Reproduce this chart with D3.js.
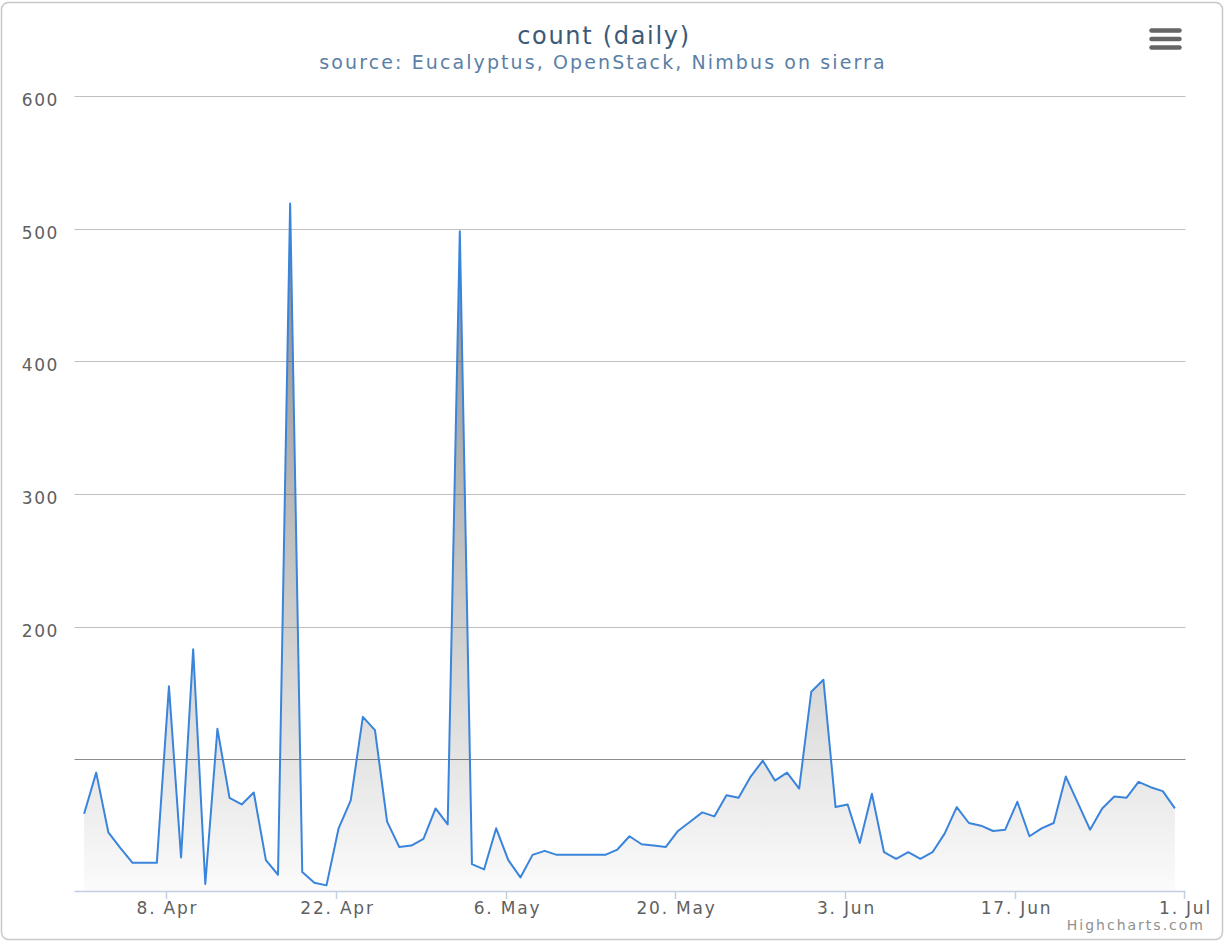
<!DOCTYPE html>
<html>
<head>
<meta charset="utf-8">
<script src="https://cdn.jsdelivr.net/npm/d3@7"></script>
<style>
  html, body { margin: 0; padding: 0; background: #fff; }
  svg { display: block; font-family: "DejaVu Sans", Verdana, sans-serif; }
</style>
</head>
<body>
<svg id="chart" width="1225" height="941"></svg>
<script>
// ---- data ----
const startDay = [2013, 3, 1];           // 1 Apr 2013 (UTC), one point per day
const counts = [
  59, 90, 45, 33, 22, 22, 22, 155, 26, 183,
  6, 123, 71, 66, 75, 24, 13, 519, 15, 7,
  5, 48, 69, 132, 122, 53, 34, 35, 40, 63,
  51, 498, 21, 17, 48, 24, 11, 28, 31, 28,
  28, 28, 28, 28, 32, 42, 36, 35, 34, 46,
  53, 60, 57, 73, 71, 87, 99, 84, 90, 78,
  151, 160, 64, 66, 37, 74, 30, 25, 30, 25,
  30, 44, 64, 52, 50, 46, 47, 68, 42, 48,
  52, 87, 67, 47, 63, 72, 71, 83, 79, 76,
  63
];
const xTickDates = ["2013-04-08", "2013-04-22", "2013-05-06", "2013-05-20", "2013-06-03", "2013-06-17", "2013-07-01"];
const xTickLabels = ["8. Apr", "22. Apr", "6. May", "20. May", "3. Jun", "17. Jun", "1. Jul"];
const yTicks = [100, 200, 300, 400, 500, 600];
const yTickLabels = ["", "200", "300", "400", "500", "600"];
const titleText = "count (daily)";
const subtitleText = "source: Eucalyptus, OpenStack, Nimbus on sierra";
const creditText = "Highcharts.com";

// ---- build ----
const points = counts.map((v, i) => ({
  date: new Date(Date.UTC(startDay[0], startDay[1], startDay[2] + i, 5)),
  value: v
}));

const svg = d3.select("#chart");
const W = 1225, H = 941;
const plot = { left: 74.5, right: 1185.5, top: 96, bottom: 892 };

// outer border
svg.append("rect")
  .attr("x", 1.5).attr("y", 2.5)
  .attr("width", W - 4).attr("height", H - 4)
  .attr("rx", 7).attr("ry", 7)
  .attr("fill", "#fff").attr("stroke", "#c8c8c8").attr("stroke-width", 1.5);

const x = d3.scaleUtc()
  .domain([new Date(Date.UTC(2013, 2, 31, 10)), new Date(Date.UTC(2013, 6, 1, 2))])
  .range([plot.left, plot.right]);
const y = d3.scaleLinear().domain([0, 600]).range([plot.bottom, plot.top]);

// grid lines
const grid = svg.append("g");
yTicks.forEach((t, i) => {
  const yy = Math.round(y(t)) + 0.5;
  grid.append("line")
    .attr("x1", plot.left).attr("x2", plot.right)
    .attr("y1", yy).attr("y2", yy)
    .attr("stroke", t === 100 ? "#8c8c8c" : "#c0c0c0")
    .attr("stroke-width", 1.2);
  if (yTickLabels[i]) {
    svg.append("text")
      .attr("x", 59).attr("y", yy + 9)
      .attr("text-anchor", "end")
      .attr("font-size", 17)
      .attr("letter-spacing", 1.6)
      .attr("fill", "#606060")
      .text(yTickLabels[i]);
  }
});

// area gradient
const defs = svg.append("defs");
const grad = defs.append("linearGradient")
  .attr("id", "areaGrad")
  .attr("gradientUnits", "userSpaceOnUse")
  .attr("x1", 0).attr("x2", 0)
  .attr("y1", y(d3.max(counts))).attr("y2", y(0));
grad.append("stop").attr("offset", 0).attr("stop-color", "#000").attr("stop-opacity", 0.47);
grad.append("stop").attr("offset", 1).attr("stop-color", "#000").attr("stop-opacity", 0.015);

const area = d3.area()
  .x(d => x(d.date))
  .y0(y(0))
  .y1(d => y(d.value));
const line = d3.line()
  .x(d => x(d.date))
  .y(d => y(d.value));

svg.append("path")
  .datum(points)
  .attr("d", area)
  .attr("fill", "url(#areaGrad)");

svg.append("path")
  .datum(points)
  .attr("d", line)
  .attr("fill", "none")
  .attr("stroke", "#3a84dc")
  .attr("stroke-width", 2)
  .attr("stroke-linejoin", "round");

// x axis
const xTicks = xTickDates.map(s => new Date(s + "T00:00:00Z"));
const axisY = plot.bottom - 0.5;
svg.append("line")
  .attr("x1", plot.left).attr("x2", plot.right)
  .attr("y1", axisY).attr("y2", axisY)
  .attr("stroke", "#c0d0e0").attr("stroke-width", 1.5);
xTicks.forEach((d, i) => {
  const xx = Math.round(x(d)) + 0.5;
  svg.append("line")
    .attr("x1", xx).attr("x2", xx)
    .attr("y1", axisY).attr("y2", axisY + 7.5)
    .attr("stroke", "#c0d0e0").attr("stroke-width", 1.5);
  svg.append("text")
    .attr("x", xx + 1).attr("y", 914)
    .attr("text-anchor", "middle")
    .attr("font-size", 17)
    .attr("letter-spacing", 1.8)
    .attr("fill", "#606060")
    .text(xTickLabels[i]);
});

// titles
svg.append("text")
  .attr("x", 604).attr("y", 44)
  .attr("text-anchor", "middle")
  .attr("font-size", 24)
  .attr("letter-spacing", 1.7)
  .attr("fill", "#3b5a78")
  .text(titleText);
svg.append("text")
  .attr("x", 603).attr("y", 69)
  .attr("text-anchor", "middle")
  .attr("font-size", 19)
  .attr("letter-spacing", 2.1)
  .attr("fill", "#5b7fa6")
  .text(subtitleText);

// menu icon
[30.5, 39, 47.5].forEach(cy => {
  svg.append("line")
    .attr("x1", 1151.5).attr("x2", 1179.5)
    .attr("y1", cy).attr("y2", cy)
    .attr("stroke", "#666").attr("stroke-width", 4.5)
    .attr("stroke-linecap", "round");
});

// credits
svg.append("text")
  .attr("x", 1205).attr("y", 930)
  .attr("text-anchor", "end")
  .attr("font-size", 14)
  .attr("letter-spacing", 2)
  .attr("fill", "#909090")
  .text(creditText);
</script>
</body>
</html>
